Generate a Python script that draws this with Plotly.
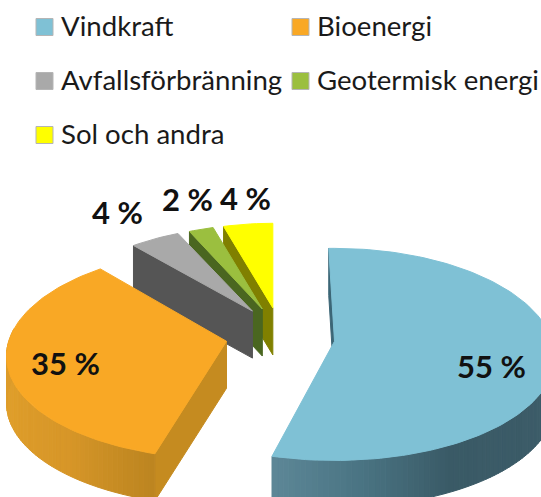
import math
import plotly.graph_objects as go

categories = ["Vindkraft", "Bioenergi", "Avfallsförbränning", "Geotermisk energi", "Sol och andra"]
values = [55, 35, 4, 2, 4]
top_colors = ["#7fc1d5", "#f9a825", "#a9a9a9", "#9bbf3f", "#ffff00"]
face_colors = ["#3c6676", "#c58b20", "#555555", "#4a6620", "#808000"]

# Projection of the tilted pie into the pixel-based axes
CX, CY = 280, 335
RX, RY_MID, RY_B, RY_D = 220, 105, 13, 15
PULL = 0.26
DEPTH = 47
slice_rot = [-1.5, 1.0, 0.0, 0.0, 0.0]
slice_sx = [1, 1, 0.92, 0.9, 0.9]
slice_sy = [1.01, 1, 0.92, 0.92, 0.92]
slice_dx = [-2, 3, 0, 0, 0]
slice_dy = [2, 2, 0, 0, 0]

def proj(theta, i):
    t = math.radians(theta + slice_rot[i])
    s, c = math.sin(t), math.cos(t)
    return (RX * slice_sx[i] * s, slice_sy[i] * (-RY_MID * c + RY_B * c * c + RY_D * s * s))

def mix(stops, a):
    stops = sorted(stops)
    if a <= stops[0][0]:
        return stops[0][1]
    for (a0, c0), (a1, c1) in zip(stops, stops[1:]):
        if a <= a1:
            f = (a - a0) / (a1 - a0)
            rgb = [round(int(c0[i:i+2], 16) * (1 - f) + int(c1[i:i+2], 16) * f) for i in (1, 3, 5)]
            return "#%02x%02x%02x" % tuple(rgb)
    return stops[-1][1]

side_stops = {
    0: [(60, "#3f5f6b"), (150, "#3a5a66"), (175, "#4a7483"), (198, "#5d8797")],
    1: [(198, "#bc8420"), (225, "#d79628"), (262, "#e09f2b"), (300, "#d8962a")],
}

fig = go.Figure()

def poly(xs, ys, color):
    fig.add_trace(go.Scatter(x=xs, y=ys, mode="lines", fill="toself", fillcolor=color,
                             line=dict(color=color, width=1), hoverinfo="skip", showlegend=False))

spans = []
acc = 0.0
for v in values:
    a0 = acc / sum(values) * 360
    acc += v
    spans.append((a0, acc / sum(values) * 360))

def draw(i):
    a0, a1 = spans[i]
    t = math.radians((a0 + a1) / 2)
    ax = CX + PULL * RX * math.sin(t) + slice_dx[i]
    ay = CY - PULL * RY_MID * math.cos(t) + slice_dy[i]
    n = max(6, int((a1 - a0) / 1.5))
    angles = [a0 + (a1 - a0) * k / n for k in range(n + 1)]
    pts = [proj(a, i) for a in angles]
    X = [ax + p[0] for p in pts]
    Y = [ay + p[1] for p in pts]
    poly([ax, X[0], X[0], ax, ax], [ay, Y[0], Y[0] + DEPTH, ay + DEPTH, ay], face_colors[i])
    if i in side_stops:
        for k in range(n):
            am = (angles[k] + angles[k + 1]) / 2
            if 80 < am < 285:
                col = mix(side_stops[i], am)
                poly([X[k], X[k + 1], X[k + 1], X[k], X[k]],
                     [Y[k], Y[k + 1], Y[k + 1] + DEPTH, Y[k] + DEPTH, Y[k]], col)
    poly([ax] + X + [ax], [ay] + Y + [ay], top_colors[i])

for i in [4, 3, 2, 0, 1]:
    draw(i)

legend_x = [44.5, 300.5, 44.5, 300.5, 44.5]
legend_y = [27, 27, 81, 81, 135]
fig.add_trace(go.Scatter(x=legend_x, y=legend_y, mode="markers", hoverinfo="skip", showlegend=False,
                         marker=dict(symbol="square", size=17, color=top_colors,
                                     line=dict(color="#b5b5b5", width=1))))
annotations = []
for c, x, y in zip(categories, legend_x, legend_y):
    annotations.append(dict(x=x + 14, y=y - 2, text=c, showarrow=False, xanchor="left", yanchor="middle",
                            font=dict(family="Lato", size=27.6, color="#1a1a1a")))
label_x = [491, 65, 117, 187, 245]
label_y = [366, 363, 212, 199, 198]
for v, x, y in zip(values, label_x, label_y):
    annotations.append(dict(x=x, y=y, text=f"{v} %", showarrow=False, xanchor="center", yanchor="middle",
                            font=dict(family="Lato", size=31, color="#111111", weight="bold")))

fig.update_layout(
    width=541, height=497, margin=dict(l=0, r=0, t=0, b=0),
    paper_bgcolor="white", plot_bgcolor="white", showlegend=False, annotations=annotations,
    xaxis=dict(range=[0, 541], visible=False, fixedrange=True),
    yaxis=dict(range=[497, 0], visible=False, fixedrange=True),
)
fig.write_html("out.html", config={"displayModeBar": False},
               post_script="document.body.style.margin='0';")
